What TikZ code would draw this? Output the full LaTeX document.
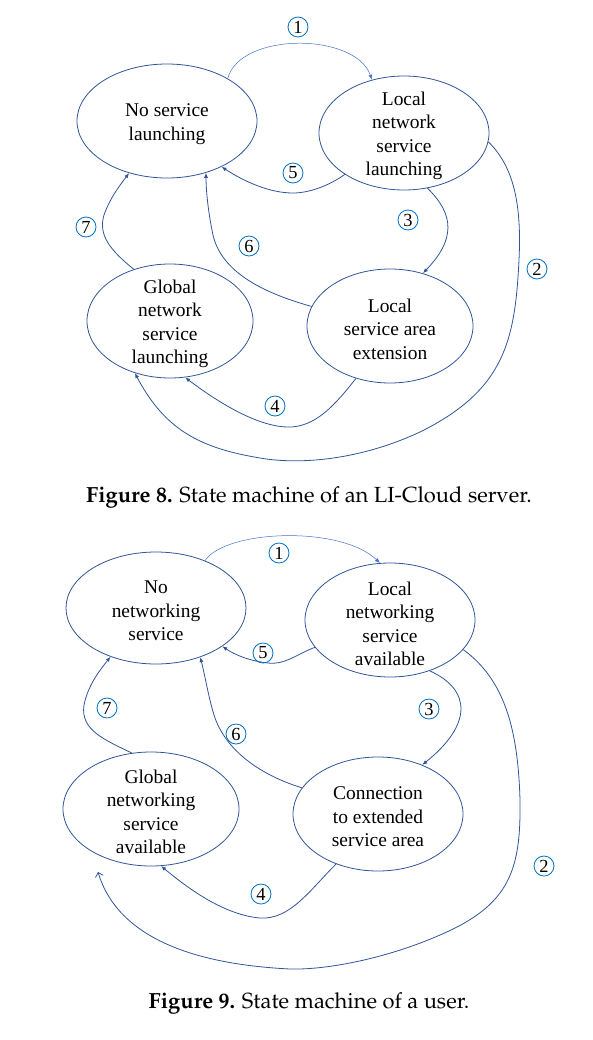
\documentclass[tikz,border=0pt]{standalone}
\usepackage[T1,TU]{fontenc}
\usepackage{fontspec}
\setmainfont{Liberation Serif}
\usetikzlibrary{shapes.geometric,arrows.meta}
\definecolor{edge}{RGB}{47,85,151}
\definecolor{light}{RGB}{68,114,196}
\definecolor{cblue}{RGB}{0,112,192}
\tikzset{
 st/.style={ellipse, draw=edge, line width=0.8bp, inner sep=0pt},
 lbl/.style={align=center, font=\fontsize{19.5}{23.5}\selectfont, inner sep=0pt, yshift=-3bp},
 num/.style={circle, draw=cblue, line width=0.8bp, minimum size=20bp, inner sep=0pt, font=\fontsize{18.5}{18.5}\selectfont},
 tr/.style={draw=edge, line width=0.8bp, -{Latex[length=5bp,width=4bp]}},
 tr1/.style={draw=light, line width=0.5bp, -{Latex[length=5bp,width=4bp]}},
 openarr/.style={draw=edge, line width=0.8bp, -{Straight Barb[length=4bp,width=8bp]}},
 figcap/.style={font=\fontencoding{T1}\fontfamily{ppl}\fontsize{22}{26}\selectfont, inner sep=0pt}
}
\begin{document}
\begin{tikzpicture}[x=1bp,y=-1bp]
\useasboundingbox (0,0) rectangle (593,1040);
% ---------- Figure 8 ----------
\node[st, minimum width=180bp, minimum height=114bp] (A) at (167,121) {};
\node[lbl] (At) at (A) {No service\\launching};
\node[st, minimum width=170bp, minimum height=114bp] (B) at (404,133) {};
\node[lbl] (Bt) at (B) {Local\\network\\service\\launching};
\node[st, minimum width=166bp, minimum height=114bp] (C) at (170,321) {};
\node[lbl] (Ct) at (C) {Global\\network\\service\\launching};
\node[st, minimum width=166bp, minimum height=114bp] (D) at (390,326) {};
\node[lbl] (Dt) at (D) {Local\\service area\\extension};

\draw[tr1] (A.35) .. controls (240,32) and (355,32) .. (B.121);
\draw[tr] (B.215) .. controls (330,185) and (310,193) .. (293,193) .. controls (270,193) and (245,182) .. (A.-40);
\draw[tr] (B.-67) .. controls (455,215) and (455,240) .. (D.58);
\draw[tr] (B.-6) .. controls (512,165) and (522,200) .. (519,260) .. controls (515,340) and (505,390) .. (420,432) .. controls (360,460) and (300,465) .. (260,458) .. controls (200,448) and (165,430) .. (C.-124);
\draw[tr] (D.-123) .. controls (335,405) and (315,428) .. (287,427) .. controls (255,426) and (215,400) .. (C.-75);
\draw[tr] (D.166) .. controls (260,292) and (218,270) .. (212,230) .. controls (208,210) and (206,190) .. (A.-53);
\draw[tr] (C.125) .. controls (110,250) and (98,235) .. (104,215) .. controls (110,198) and (120,185) .. (A.-126);

\node[num] (n81) at (298,27) {1};
\node[num] (n82) at (537,269) {2};
\node[num] (n83) at (408,220) {3};
\node[num] (n84) at (275,406) {4};
\node[num] (n85) at (293,173) {5};
\node[num] (n86) at (249,246) {6};
\node[num] (n87) at (86,227) {7};

\node[figcap] (cap8) at (309,497) {\bfseries Figure 8.\mdseries{} State machine of an LI-Cloud server.};

% ---------- Figure 9 ----------
\node[st, minimum width=180bp, minimum height=112bp] (A2) at (156,608) {};
\node[lbl] (A2t) at (A2) {No\\networking\\service};
\node[st, minimum width=170bp, minimum height=114bp] (B2) at (390,620) {};
\node[lbl] (B2t) at ([yshift=-1bp]B2.center) {Local\\networking\\service\\available};
\node[st, minimum width=176bp, minimum height=114bp] (C2) at (151,809) {};
\node[lbl] (C2t) at (C2) {Global\\networking\\service\\available};
\node[st, minimum width=170bp, minimum height=114bp] (D2) at (378,814) {};
\node[lbl] (D2t) at (D2) {Connection\\to extended\\service area};

\draw[tr1] (A2.44) .. controls (225,530) and (340,525) .. (B2.100);
\draw[tr] (B2.200) .. controls (295,655) and (285,665) .. (268,663) .. controls (250,661) and (235,655) .. (A2.-30);
\draw[tr] (B2.-52) .. controls (472,690) and (472,725) .. (D2.48);
\draw[tr] (C2.109) .. controls (105,740) and (80,730) .. (84,705) .. controls (88,685) and (100,670) .. (A2.-133);
\draw[tr] (D2.161) .. controls (260,775) and (225,750) .. (214,715) .. controls (208,695) and (206,680) .. (A2.-48);
\coordinate (e2) at (98,872);
\draw[openarr] (B2.-22) .. controls (505,680) and (518,730) .. (520,800) .. controls (521,870) and (510,905) .. (440,935) .. controls (390,957) and (330,970) .. (290,969) .. controls (210,965) and (120,945) .. (e2);
\draw[tr] (D2.-130) .. controls (310,890) and (290,920) .. (260,918) .. controls (225,915) and (190,890) .. (C2.-80);

\node[num] (n91) at (279,553) {1};
\node[num] (n92) at (544,866) {2};
\node[num] (n93) at (429,709) {3};
\node[num] (n94) at (261,894) {4};
\node[num] (n95) at (263,653) {5};
\node[num] (n96) at (236,734) {6};
\node[num] (n97) at (107,708) {7};

\node[figcap] (cap9) at (309,1003) {\bfseries Figure 9.\mdseries{} State machine of a user.};
\end{tikzpicture}
\end{document}
